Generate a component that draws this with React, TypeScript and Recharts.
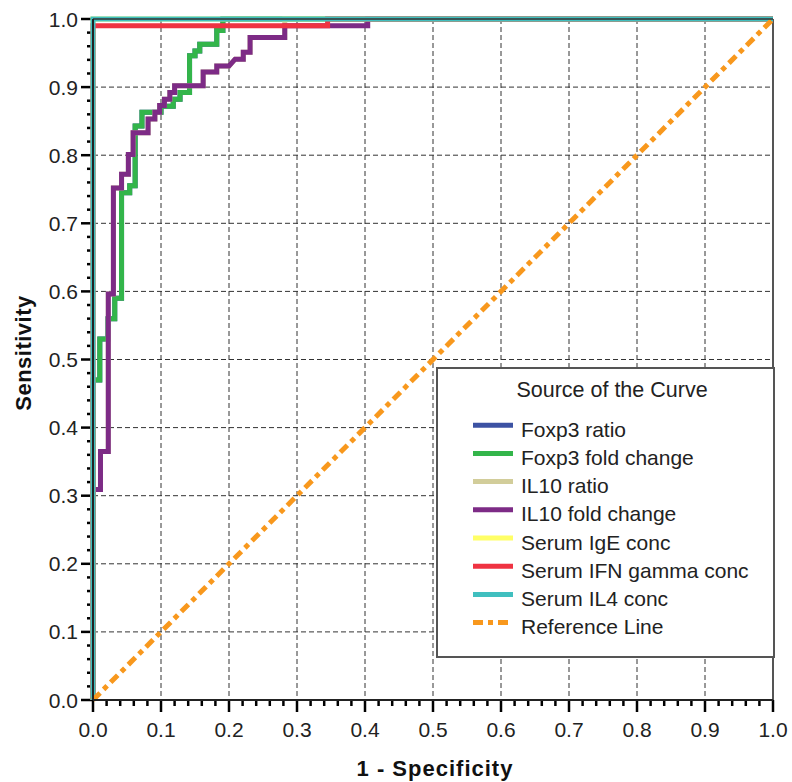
import React from 'react';
import { LineChart, Line, XAxis, YAxis, CartesianGrid, ReferenceLine, Legend } from 'recharts';

// ---------- text ----------
const legendTitle = 'Source of the Curve';
const xAxisTitle = '1 - Specificity';
const yAxisTitle = 'Sensitivity';
const seriesNames = [
  'Foxp3 ratio',
  'Foxp3 fold change',
  'IL10 ratio',
  'IL10 fold change',
  'Serum IgE conc',
  'Serum IFN gamma conc',
  'Serum IL4 conc',
];
const referenceName = 'Reference Line';
const majorTickLabels = ['0.0', '0.1', '0.2', '0.3', '0.4', '0.5', '0.6', '0.7', '0.8', '0.9', '1.0'];
const gridValues = [0.1, 0.2, 0.3, 0.4, 0.5, 0.6, 0.7, 0.8, 0.9];
const allTicks = Array.from({ length: 51 }, (_, i) => i / 50);

// ---------- ROC data (1-specificity, sensitivity) ----------
const foxp3FoldX = [0, 0, 0.01, 0.01, 0.022, 0.022, 0.032, 0.032, 0.042, 0.042, 0.054, 0.054, 0.062, 0.062, 0.072, 0.072, 0.1, 0.1, 0.118, 0.118, 0.128, 0.128, 0.142, 0.142, 0.15, 0.15, 0.157, 0.157, 0.182, 0.182, 0.191, 0.191, 0.191, 1];
const foxp3FoldY = [0, 0.47, 0.47, 0.53, 0.53, 0.56, 0.56, 0.59, 0.59, 0.745, 0.745, 0.755, 0.755, 0.843, 0.843, 0.863, 0.863, 0.872, 0.872, 0.882, 0.882, 0.892, 0.892, 0.946, 0.946, 0.953, 0.953, 0.963, 0.963, 0.983, 0.983, 0.99, 1, 1];

const foxp3RatioX = [0, 0, 0.01, 0.01, 0.022, 0.022, 0.032, 0.032, 0.042, 0.042, 0.054, 0.054, 0.062, 0.062, 0.072, 0.072, 0.1, 0.1, 0.118, 0.118, 0.128, 0.128, 0.142, 0.142, 0.15, 0.15, 0.157, 0.157, 0.182, 0.182, 0.191, 0.191, 1];
const foxp3RatioY = [0, 0.47, 0.47, 0.53, 0.53, 0.56, 0.56, 0.59, 0.59, 0.745, 0.745, 0.755, 0.755, 0.843, 0.843, 0.863, 0.863, 0.872, 0.872, 0.882, 0.882, 0.892, 0.892, 0.946, 0.946, 0.953, 0.953, 0.963, 0.963, 0.983, 0.983, 1, 1];

const il10FoldX = [0, 0, 0.011, 0.011, 0.0225, 0.0225, 0.03, 0.03, 0.042, 0.042, 0.052, 0.052, 0.059, 0.059, 0.081, 0.081, 0.091, 0.091, 0.098, 0.098, 0.105, 0.105, 0.113, 0.113, 0.12, 0.12, 0.162, 0.162, 0.182, 0.182, 0.2, 0.209, 0.221, 0.221, 0.231, 0.231, 0.282, 0.282, 0.404, 0.404, 1];
const il10FoldY = [0, 0.309, 0.309, 0.365, 0.365, 0.596, 0.596, 0.752, 0.752, 0.772, 0.772, 0.801, 0.801, 0.833, 0.833, 0.853, 0.853, 0.863, 0.863, 0.873, 0.873, 0.882, 0.882, 0.892, 0.892, 0.902, 0.902, 0.922, 0.922, 0.931, 0.931, 0.941, 0.941, 0.951, 0.951, 0.973, 0.973, 0.99, 0.99, 1, 1];

const il10RatioX = [0, 0, 0.011, 0.011, 0.0225, 0.0225, 0.03, 0.03, 0.042, 0.042, 0.052, 0.052, 0.059, 0.059, 0.081, 0.081, 0.091, 0.091, 0.098, 0.098, 0.105, 0.105, 0.113, 0.113, 0.12, 0.12, 0.162, 0.162, 0.182, 0.182, 0.2, 0.209, 0.221, 0.221, 0.231, 0.231, 0.282, 0.282, 1];
const il10RatioY = [0, 0.309, 0.309, 0.365, 0.365, 0.596, 0.596, 0.752, 0.752, 0.772, 0.772, 0.801, 0.801, 0.833, 0.833, 0.853, 0.853, 0.863, 0.863, 0.873, 0.873, 0.882, 0.882, 0.892, 0.892, 0.902, 0.902, 0.922, 0.922, 0.931, 0.931, 0.941, 0.941, 0.951, 0.951, 0.973, 0.973, 1, 1];

const igeX = [0, 0, 1];
const igeY = [0, 1, 1];

const ifnX = [0, 0, 0.345, 0.345, 1];
const ifnY = [0, 0.99, 0.99, 1, 1];

const il4X = [0, 0, 1];
const il4Y = [0, 1, 1];

const refX = [0, 1];
const refY = [0, 1];

const toPoints = (xs: number[], ys: number[]) => xs.map((x, i) => ({ x, y: ys[i] }));

const seriesData = [
  toPoints(foxp3RatioX, foxp3RatioY),
  toPoints(foxp3FoldX, foxp3FoldY),
  toPoints(il10RatioX, il10RatioY),
  toPoints(il10FoldX, il10FoldY),
  toPoints(igeX, igeY),
  toPoints(ifnX, ifnY),
  toPoints(il4X, il4Y),
];
const refData = toPoints(refX, refY);

// ---------- styles ----------
const seriesColors = ['#3C52A3', '#33B54A', '#D2CD9A', '#7D2B86', '#FFFF66', '#EF3342', '#40BFBF'];
const refColor = '#F8981D';
const refDash = '10 5 5 5';
const FONT = '"Liberation Sans", Arial, Helvetica, sans-serif';
const AXIS_COLOR = '#000';
const PLOT_PX = 680; // plot size in pixels, used to turn tick lengths into axis units
const MAJOR_LEN = 12 / PLOT_PX;
const MINOR_LEN = 6 / PLOT_PX;

const isMajor = (v: number) => Math.abs(v * 10 - Math.round(v * 10)) < 1e-6;

// labels only; x, y arrive on the axis line (tickSize 0, tickMargin 0)
const XTick = (props: any) => {
  const { x, y, payload } = props;
  const v = Number(payload.value);
  if (!isMajor(v)) return <g />;
  return (
    <text x={x} y={y + 37} textAnchor="middle" fontSize={21} fill="#222" fontFamily={FONT}>
      {majorTickLabels[Math.round(v * 10)]}
    </text>
  );
};

const YTick = (props: any) => {
  const { x, y, payload } = props;
  const v = Number(payload.value);
  if (!isMajor(v)) return <g />;
  return (
    <text x={x - 15} y={y + 7.5} textAnchor="end" fontSize={21} fill="#222" fontFamily={FONT}>
      {majorTickLabels[Math.round(v * 10)]}
    </text>
  );
};

const LegendBox = () => {
  const W = 339;
  const H = 291;
  const names = [...seriesNames, referenceName];
  const colors = [...seriesColors, refColor];
  return (
    <svg width={W} height={H} style={{ display: 'block' }}>
      <rect x={1} y={1} width={W - 2} height={H - 2} fill="#fff" stroke="#555" strokeWidth={2} />
      <text x={176} y={30} textAnchor="middle" fontSize={21.5} fill="#222" fontFamily={FONT}>
        {legendTitle}
      </text>
      {names.map((n, i) => {
        const base = 69.7 + i * 28.2;
        const isRef = i === names.length - 1;
        return (
          <g key={n}>
            <line
              x1={37}
              x2={77}
              y1={base - 11.5}
              y2={base - 11.5}
              stroke={colors[i]}
              strokeWidth={5}
              strokeDasharray={isRef ? refDash : undefined}
            />
            <text x={85} y={base} fontSize={21} fill="#222" fontFamily={FONT}>
              {n}
            </text>
          </g>
        );
      })}
    </svg>
  );
};

export default function App() {
  return (
    <div style={{ position: 'absolute', left: 0, top: 0, width: 792, height: 782, background: '#fff' }}>
      <LineChart width={792} height={782} margin={{ top: 19, right: 19, left: 0, bottom: 0 }}>
        <CartesianGrid
          horizontalValues={gridValues}
          verticalValues={gridValues}
          stroke="#333"
          strokeDasharray="5 3"
          strokeWidth={1}
        />
        <XAxis
          dataKey="x"
          type="number"
          domain={[0, 1]}
          ticks={allTicks}
          interval={0}
          height={82}
          tickSize={0}
          tickMargin={0}
          tickLine={false}
          axisLine={{ stroke: '#222', strokeWidth: 2 }}
          tick={(p: any) => <XTick {...p} />}
        />
        <YAxis
          dataKey="y"
          type="number"
          domain={[0, 1]}
          ticks={allTicks}
          interval={0}
          width={93}
          tickSize={0}
          tickMargin={0}
          tickLine={false}
          axisLine={{ stroke: '#222', strokeWidth: 2 }}
          tick={(p: any) => <YTick {...p} />}
        />
        {allTicks.map((t) => (
          <ReferenceLine
            key={`xt-${t}`}
            ifOverflow="visible"
            segment={[
              { x: t, y: 0 },
              { x: t, y: -(isMajor(t) ? MAJOR_LEN : MINOR_LEN) },
            ]}
            stroke={AXIS_COLOR}
            strokeWidth={2.5}
          />
        ))}
        {allTicks.map((t) => (
          <ReferenceLine
            key={`yt-${t}`}
            ifOverflow="visible"
            segment={[
              { x: 0, y: t },
              { x: -(isMajor(t) ? MAJOR_LEN : MINOR_LEN), y: t },
            ]}
            stroke={AXIS_COLOR}
            strokeWidth={2.5}
          />
        ))}
        <ReferenceLine x={1} stroke="#555" strokeWidth={2} />
        {seriesData.map((d, i) => (
          <Line
            key={seriesNames[i]}
            data={d}
            dataKey="y"
            name={seriesNames[i]}
            type="linear"
            stroke={seriesColors[i]}
            strokeWidth={5}
            dot={false}
            activeDot={false}
            isAnimationActive={false}
          />
        ))}
        <Line
          data={refData}
          dataKey="y"
          name={referenceName}
          type="linear"
          stroke={refColor}
          strokeWidth={5}
          strokeDasharray={refDash}
          dot={false}
          activeDot={false}
          isAnimationActive={false}
        />
        <ReferenceLine y={1} stroke="#333" strokeWidth={1.5} />
        <Legend
          layout="vertical"
          align="center"
          verticalAlign="middle"
          wrapperStyle={{ left: 436, top: 367, width: 339, height: 291 }}
          content={() => <LegendBox />}
        />
        <text x={31} y={353} transform="rotate(-90 31 353)" textAnchor="middle" fontSize={22} fontWeight="bold" letterSpacing={0.5} fill="#111" fontFamily={FONT}>
          {yAxisTitle}
        </text>
        <text x={435} y={776} textAnchor="middle" fontSize={22} fontWeight="bold" letterSpacing={1} fill="#111" fontFamily={FONT}>
          {xAxisTitle}
        </text>
      </LineChart>
    </div>
  );
}
